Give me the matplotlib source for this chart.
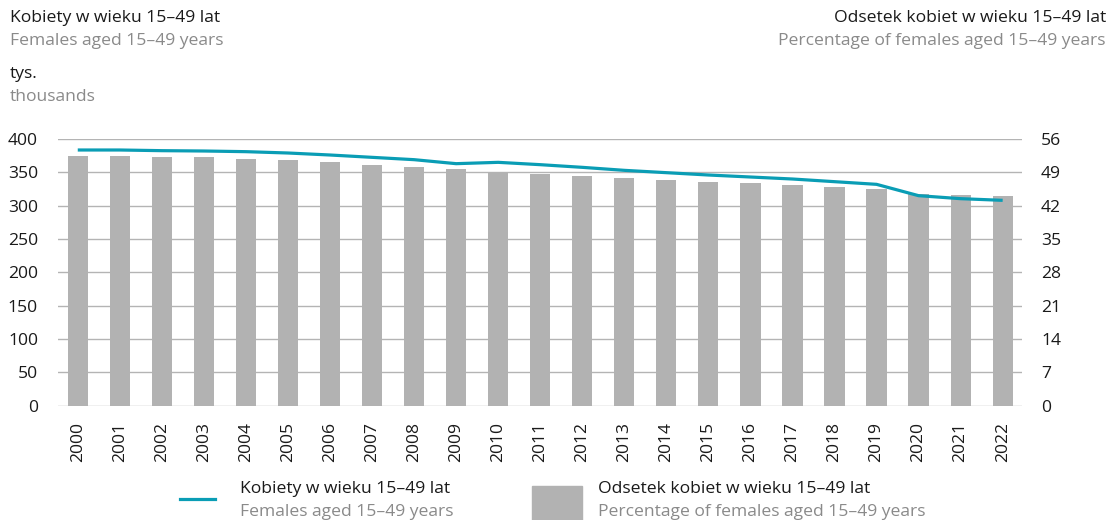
import matplotlib
matplotlib.use("Agg")
import matplotlib.pyplot as plt
import numpy as np

plt.rcParams["font.family"] = ["Open Sans", "DejaVu Sans"]

# ── data ─────────────────────────────────────────────────────────────
years = [str(y) for y in range(2000, 2023)]

# females aged 15–49, thousands (left axis, line)
females_thousands = [383.5, 383.5, 382.5, 382, 381, 379, 376, 372.5, 369, 363,
                     365, 361.5, 357.5, 353, 349.5, 346, 343, 340, 336, 332,
                     315, 310.5, 308]

# share of females aged 15–49, % (right axis, bars)
females_pct = [52.5, 52.5, 52.3, 52.2, 51.9, 51.6, 51.1, 50.6, 50.1, 49.6,
               49.1, 48.7, 48.2, 47.8, 47.4, 47.0, 46.7, 46.3, 45.9, 45.6,
               44.4, 44.2, 44.0]

left_ticks = [0, 50, 100, 150, 200, 250, 300, 350, 400]
right_ticks = [0, 7, 14, 21, 28, 35, 42, 49, 56]

TEAL = "#0a9db5"
BAR = "#b2b2b2"
GRID = "#b4b4b4"
DARK = "#1a1a1a"
GREY = "#8a8a8a"
FS = 12.6

W, H = 1111, 520
fig = plt.figure(figsize=(W / 100, H / 100), dpi=100)

# axes placed in pixel terms
x0, x1 = 58, 1022
y_top, y_bot = 139, 405.7
ax2 = fig.add_axes([x0 / W, 1 - y_bot / H, (x1 - x0) / W, (y_bot - y_top) / H])
ax = ax2.twinx()
ax.set_zorder(ax2.get_zorder() + 1)
ax.patch.set_visible(False)

x = np.arange(len(years))

# bars on the percentage axis
ax2.bar(x, females_pct, width=0.48, color=BAR, zorder=2)
ax2.set_ylim(0, 56)
ax2.set_yticks(right_ticks)
ax2.set_axisbelow(True)
ax2.yaxis.grid(True, color=GRID, linewidth=1.0)
ax2.yaxis.tick_right()

# line on the thousands axis
ax.plot(x, females_thousands, color=TEAL, linewidth=2.3, solid_capstyle="butt")
ax.set_ylim(0, 400)
ax.set_yticks(left_ticks)
ax.yaxis.tick_left()

for a in (ax, ax2):
    for s in a.spines.values():
        s.set_visible(False)
    a.tick_params(axis="y", length=0, labelsize=FS, labelcolor=DARK)

ax2.set_xlim(-0.47, 22.46)
ax.tick_params(axis="y", pad=14.4)
ax2.tick_params(axis="y", pad=13.7)
for lab in ax2.get_yticklabels():
    lab.set_horizontalalignment("left")

ax2.set_xticks(x)
ax2.set_xticklabels(years, rotation=90, fontsize=FS, color=DARK)
ax2.tick_params(axis="x", length=0, pad=11.5)

# ── headers ──────────────────────────────────────────────────────────
fig.text(10 / W, 1 - 22 / H, "Kobiety w wieku 15–49 lat", fontsize=FS,
         color=DARK, va="baseline")
fig.text(10 / W, 1 - 45 / H, "Females aged 15–49 years", fontsize=FS,
         color=GREY, va="baseline")
fig.text(10 / W, 1 - 78 / H, "tys.", fontsize=FS, color=DARK, va="baseline")
fig.text(10 / W, 1 - 101 / H, "thousands", fontsize=FS, color=GREY,
         va="baseline")
fig.text(1106 / W, 1 - 22 / H, "Odsetek kobiet w wieku 15–49 lat",
         fontsize=FS, color=DARK, ha="right", va="baseline")
fig.text(1106 / W, 1 - 45 / H, "Percentage of females aged 15–49 years",
         fontsize=FS, color=GREY, ha="right", va="baseline")

# ── legend ───────────────────────────────────────────────────────────
fig.add_artist(plt.Line2D([180 / W, 215 / W], [1 - 499 / H, 1 - 499 / H],
                          color=TEAL, linewidth=2.3, transform=fig.transFigure))
fig.text(240 / W, 1 - 493 / H, "Kobiety w wieku 15–49 lat", fontsize=FS,
         color=DARK, va="baseline")
fig.text(240 / W, 1 - 516 / H, "Females aged 15–49 years", fontsize=FS,
         color=GREY, va="baseline")
fig.add_artist(plt.Rectangle((532 / W, 1 - 520 / H), 50 / W, 34 / H,
                             color=BAR, transform=fig.transFigure))
fig.text(598 / W, 1 - 493 / H, "Odsetek kobiet w wieku 15–49 lat",
         fontsize=FS, color=DARK, va="baseline")
fig.text(598 / W, 1 - 516 / H, "Percentage of females aged 15–49 years",
         fontsize=FS, color=GREY, va="baseline")

fig.savefig("out.png", dpi=100)
